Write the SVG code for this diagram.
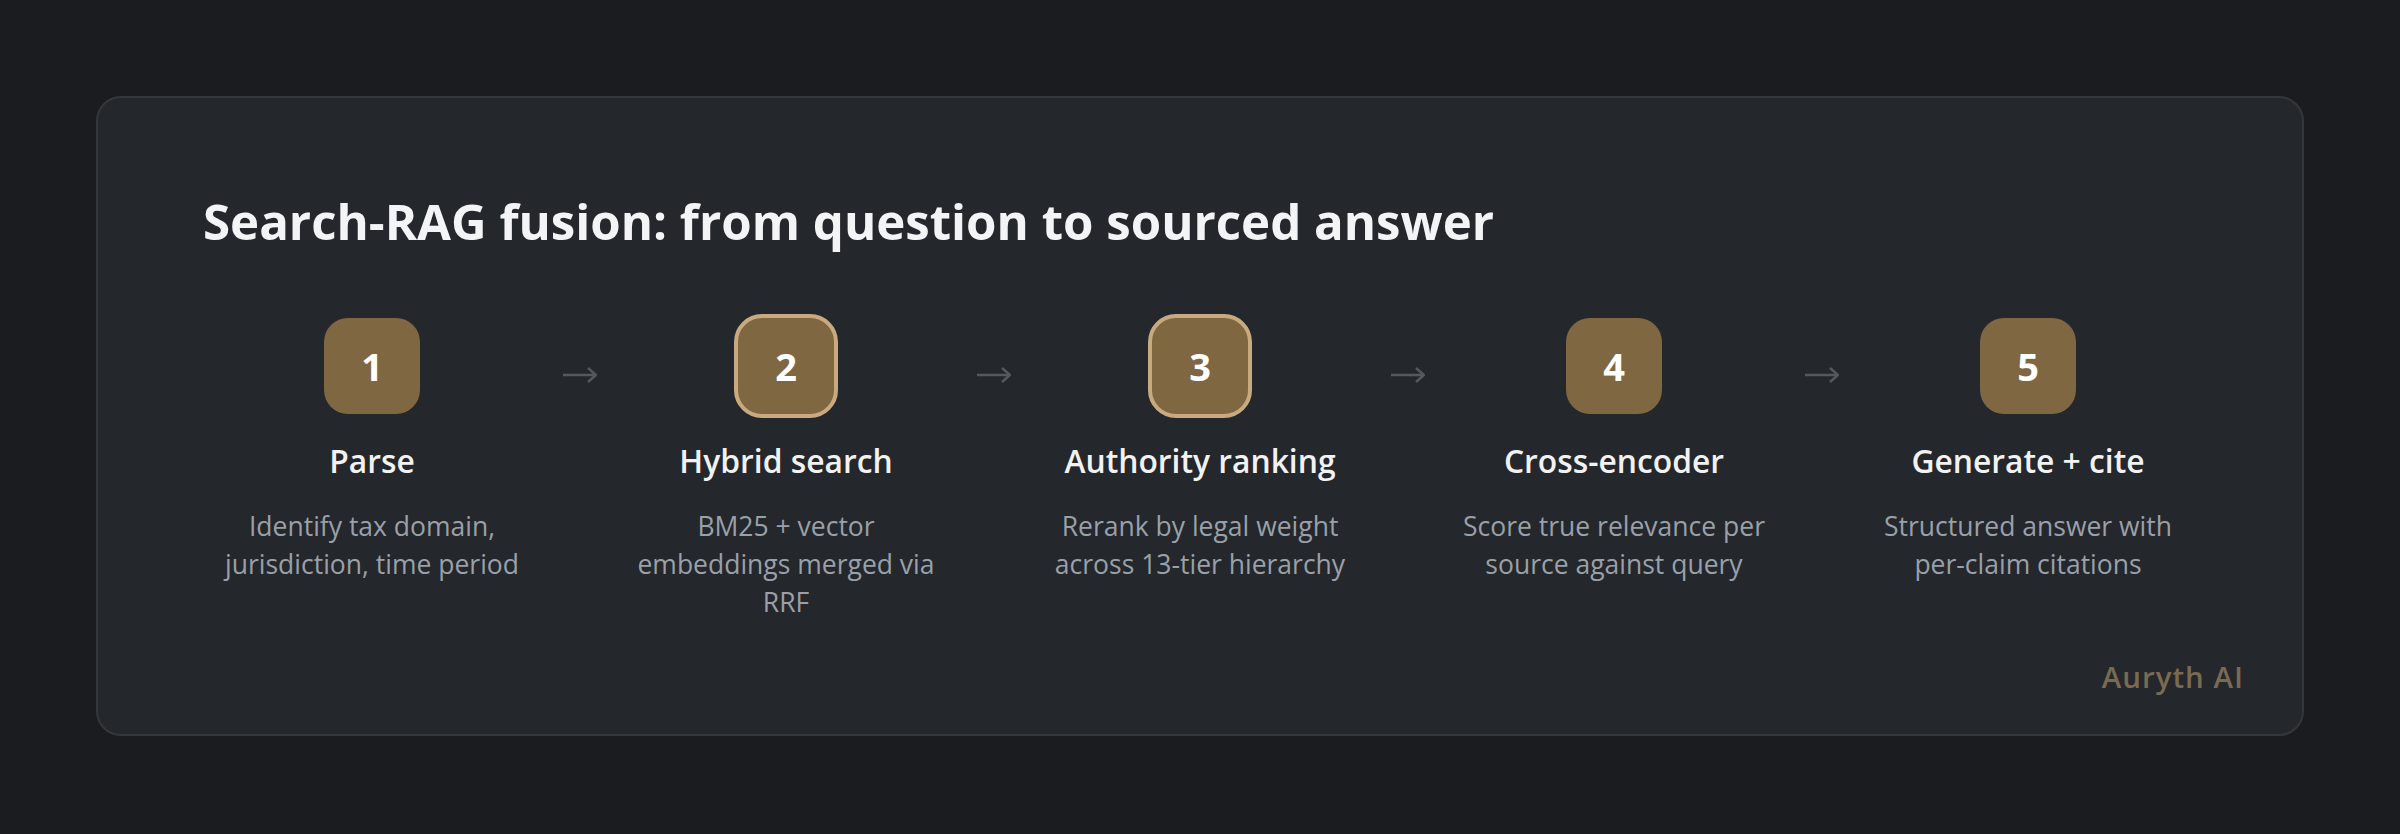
<svg xmlns="http://www.w3.org/2000/svg" width="2400" height="834" viewBox="0 0 2400 834">
  <style>
    .title { font-family: "Open Sans", "Noto Sans", sans-serif; font-weight: 700; font-size: 49.2px; fill: #f3f4f6; }
    .num { font-family: "Open Sans", "Noto Sans", sans-serif; font-weight: 700; font-size: 38px; fill: #ffffff; text-anchor: middle; }
    .step { font-family: "Open Sans", "Noto Sans", sans-serif; font-weight: 600; font-size: 31.8px; fill: #f2f2f2; text-anchor: middle; }
    .desc { font-family: "Open Sans", "Noto Sans", sans-serif; font-weight: 400; font-size: 26.5px; fill: #9aa0a8; text-anchor: middle; }
    .brand { font-family: "Open Sans", "Noto Sans", sans-serif; font-weight: 600; font-size: 29.5px; fill: #7a6a52; text-anchor: end; letter-spacing: 1px; }
    .box { fill: #7f6742; }
    .box-hl { fill: #7f6742; stroke: #c9aa7f; stroke-width: 4; }
    .conn { stroke: #55585e; stroke-width: 2.5; fill: none; }
  </style>
  <defs>
    <marker id="chev" viewBox="0 0 10 16" refX="9" refY="8" markerWidth="10" markerHeight="16" markerUnits="userSpaceOnUse" orient="auto">
      <path d="M1,1 L9,8 L1,15" fill="none" stroke="#55585e" stroke-width="2.5"/>
    </marker>
  </defs>

  <rect x="0" y="0" width="2400" height="834" fill="#1b1c20"/>
  <rect x="97" y="97" width="2206" height="638" rx="24" fill="#24272c" stroke="#34373c" stroke-width="2"/>

  <text class="title" x="203" y="240">Search-RAG fusion: from question to sourced answer</text>

  <g id="connectors">
    <line class="conn" x1="563" y1="375" x2="596" y2="375" marker-end="url(#chev)"/>
    <line class="conn" x1="977" y1="375" x2="1010" y2="375" marker-end="url(#chev)"/>
    <line class="conn" x1="1391" y1="375" x2="1424" y2="375" marker-end="url(#chev)"/>
    <line class="conn" x1="1805" y1="375" x2="1838" y2="375" marker-end="url(#chev)"/>
  </g>

  <g id="node-1">
    <rect class="box" x="324" y="318" width="96" height="96" rx="24"/>
    <text class="num" x="372" y="381">1</text>
    <text class="step" x="372" y="473">Parse</text>
    <text class="desc" x="372" y="536">Identify tax domain,</text>
    <text class="desc" x="372" y="574">jurisdiction, time period</text>
  </g>

  <g id="node-2">
    <rect class="box-hl" x="736" y="316" width="100" height="100" rx="26"/>
    <text class="num" x="786" y="381">2</text>
    <text class="step" x="786" y="473">Hybrid search</text>
    <text class="desc" x="786" y="536">BM25 + vector</text>
    <text class="desc" x="786" y="574">embeddings merged via</text>
    <text class="desc" x="786" y="612">RRF</text>
  </g>

  <g id="node-3">
    <rect class="box-hl" x="1150" y="316" width="100" height="100" rx="26"/>
    <text class="num" x="1200" y="381">3</text>
    <text class="step" x="1200" y="473">Authority ranking</text>
    <text class="desc" x="1200" y="536">Rerank by legal weight</text>
    <text class="desc" x="1200" y="574">across 13-tier hierarchy</text>
  </g>

  <g id="node-4">
    <rect class="box" x="1566" y="318" width="96" height="96" rx="24"/>
    <text class="num" x="1614" y="381">4</text>
    <text class="step" x="1614" y="473">Cross-encoder</text>
    <text class="desc" x="1614" y="536">Score true relevance per</text>
    <text class="desc" x="1614" y="574">source against query</text>
  </g>

  <g id="node-5">
    <rect class="box" x="1980" y="318" width="96" height="96" rx="24"/>
    <text class="num" x="2028" y="381">5</text>
    <text class="step" x="2028" y="473">Generate + cite</text>
    <text class="desc" x="2028" y="536">Structured answer with</text>
    <text class="desc" x="2028" y="574">per-claim citations</text>
  </g>

  <text class="brand" x="2244" y="688">Auryth AI</text>
</svg>
